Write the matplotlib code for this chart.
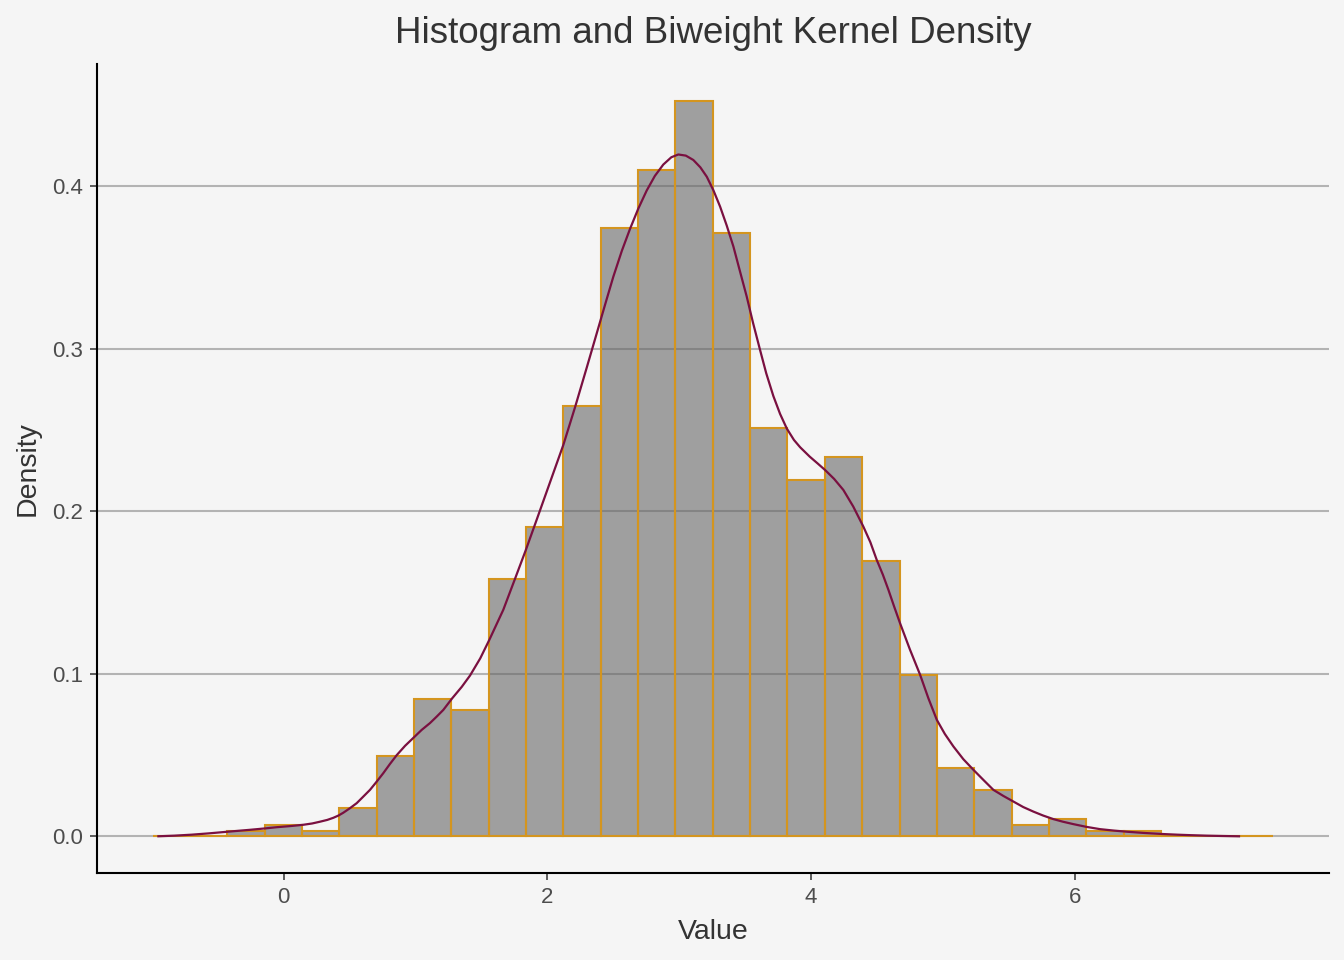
import matplotlib
matplotlib.use("Agg")
import matplotlib.pyplot as plt
import numpy as np

plt.rcParams['font.family'] = ['Liberation Sans', 'DejaVu Sans']

# Histogram bin edges (30 bins) and density heights
bin_edges = [-0.995, -0.712, -0.428, -0.145, 0.138, 0.422, 0.705, 0.988, 1.271, 1.555,
             1.838, 2.121, 2.405, 2.688, 2.971, 3.255, 3.538, 3.821, 4.104, 4.388,
             4.671, 4.954, 5.238, 5.521, 5.804, 6.088, 6.371, 6.654, 6.937, 7.221, 7.504]
hist_density = [0.0, 0.0, 0.0035, 0.0071, 0.0035, 0.0177, 0.0492, 0.0847, 0.0775, 0.1585,
                0.1907, 0.2647, 0.3747, 0.4100, 0.4526, 0.3713, 0.2512, 0.2194, 0.2333, 0.1697,
                0.0990, 0.0423, 0.0282, 0.0071, 0.0106, 0.0035, 0.0035, 0.0, 0.0, 0.0]

# Biweight kernel density curve
kde_x = [-0.96, -0.83, -0.70, -0.57, -0.43, -0.257, -0.15, -0.054, 0.05, 0.148,
         0.215, 0.275, 0.33, 0.376, 0.415, 0.451, 0.50, 0.553, 0.60, 0.654,
         0.705, 0.755, 0.805, 0.857, 0.92, 0.983, 1.046, 1.109, 1.16, 1.21,
         1.278, 1.35, 1.413, 1.49, 1.559, 1.665, 1.754, 1.835, 1.919, 2.02,
         2.121, 2.209, 2.30, 2.374, 2.44, 2.50, 2.565, 2.627, 2.69, 2.753,
         2.815, 2.879, 2.94, 2.993, 3.05, 3.107, 3.16, 3.209, 3.26, 3.31,
         3.36, 3.411, 3.46, 3.512, 3.56, 3.613, 3.66, 3.714, 3.765, 3.816,
         3.87, 3.917, 3.99, 4.05, 4.106, 4.175, 4.245, 4.32, 4.397, 4.45,
         4.498, 4.545, 4.587, 4.63, 4.675, 4.75, 4.827, 4.89, 4.954, 5.015,
         5.08, 5.155, 5.232, 5.31, 5.383, 5.46, 5.535, 5.61, 5.687, 5.76,
         5.838, 5.91, 5.99, 6.09, 6.193, 6.30, 6.40, 6.52, 6.67, 6.78,
         6.88, 7.00, 7.12, 7.255]
kde_y = [0.0, 0.0004, 0.0010, 0.0018, 0.0028, 0.0040, 0.0048, 0.0056, 0.0063, 0.0071,
         0.0079, 0.0090, 0.0101, 0.0114, 0.0128, 0.0145, 0.0172, 0.0204, 0.0242, 0.0286,
         0.0337, 0.0389, 0.0445, 0.0500, 0.0557, 0.0606, 0.0655, 0.0697, 0.0737, 0.0778,
         0.0850, 0.0920, 0.0990, 0.1095, 0.1209, 0.1394, 0.1585, 0.1760, 0.1950, 0.2180,
         0.2410, 0.2640, 0.2890, 0.3096, 0.3280, 0.3445, 0.3605, 0.3740, 0.3865, 0.3975,
         0.4065, 0.4135, 0.4180, 0.4197, 0.4190, 0.4163, 0.4118, 0.4060, 0.3975, 0.3876,
         0.3760, 0.3630, 0.3480, 0.3322, 0.3160, 0.2994, 0.2850, 0.2710, 0.2600, 0.2510,
         0.2440, 0.2395, 0.2337, 0.2295, 0.2255, 0.2200, 0.2132, 0.2030, 0.1906, 0.1810,
         0.1702, 0.1610, 0.1517, 0.1415, 0.1312, 0.1150, 0.0995, 0.0850, 0.0717, 0.0630,
         0.0553, 0.0475, 0.0409, 0.0345, 0.0286, 0.0248, 0.0214, 0.0180, 0.0152, 0.0128,
         0.0106, 0.0090, 0.0075, 0.0058, 0.0044, 0.0035, 0.0028, 0.0021, 0.0014, 0.0010,
         0.0007, 0.0004, 0.0002, 0.0]

y_ticks = [0.0, 0.1, 0.2, 0.3, 0.4]
y_ticklabels = ["0.0", "0.1", "0.2", "0.3", "0.4"]
x_ticks = [0, 2, 4, 6]
x_ticklabels = ["0", "2", "4", "6"]

BG = "#F5F5F5"
fig = plt.figure(figsize=(13.44, 9.6), dpi=100, facecolor=BG)
ax = fig.add_axes([0.0719, 0.0906, 0.9169, 0.8424])
ax.set_facecolor(BG)

edges = np.array(bin_edges)
lefts = edges[:-1]
widths = np.diff(edges)
ax.bar(lefts, hist_density, width=widths, align='edge',
       facecolor=(0.4, 0.4, 0.4, 0.6), edgecolor="#D4951F", linewidth=1.5, zorder=2)

ax.plot(kde_x, kde_y, color="#7A1040", linewidth=1.6, zorder=3,
        solid_joinstyle='round', solid_capstyle='butt')

ax.set_xlim(-1.42, 7.929)
ax.set_ylim(-0.0226, 0.4752)

ax.set_yticks(y_ticks)
ax.set_yticklabels(y_ticklabels)
ax.set_xticks(x_ticks)
ax.set_xticklabels(x_ticklabels)

ax.yaxis.grid(True, color="#B3B3B3", linewidth=1.5, zorder=1)
ax.xaxis.grid(False)
ax.set_axisbelow(True)

for s in ["top", "right"]:
    ax.spines[s].set_visible(False)
for s in ["left", "bottom"]:
    ax.spines[s].set_color("black")
    ax.spines[s].set_linewidth(1.5)

ax.tick_params(axis='both', length=5, width=1.1, color="#333333",
               labelsize=16, labelcolor="#4D4D4D", pad=5)

ax.set_xlabel("Value", fontsize=20.5, color="#333333", labelpad=8)
ax.set_ylabel("Density", fontsize=20.5, color="#333333", labelpad=8)
ax.set_title("Histogram and Biweight Kernel Density", fontsize=26.5, color="#333333", pad=15)

fig.savefig("out.png", dpi=100, facecolor=BG)
